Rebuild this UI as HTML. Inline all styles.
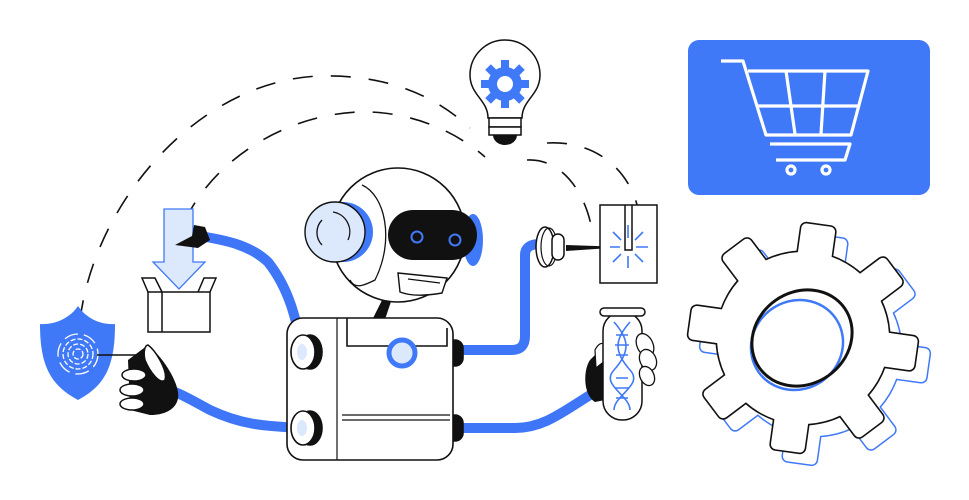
<!DOCTYPE html>
<html><head><meta charset="utf-8"><style>html,body{margin:0;padding:0;background:#fff}svg{display:block}</style></head><body>
<svg width="969" height="500" viewBox="0 0 969 500" xmlns="http://www.w3.org/2000/svg">
<defs>
<g id="gearshape">
<circle cx="0" cy="0" r="86"/>
<rect x="60" y="-17" width="54" height="34" rx="5"/>
<rect x="60" y="-17" width="54" height="34" rx="5" transform="rotate(45)"/>
<rect x="60" y="-17" width="54" height="34" rx="5" transform="rotate(90)"/>
<rect x="60" y="-17" width="54" height="34" rx="5" transform="rotate(135)"/>
<rect x="60" y="-17" width="54" height="34" rx="5" transform="rotate(180)"/>
<rect x="60" y="-17" width="54" height="34" rx="5" transform="rotate(225)"/>
<rect x="60" y="-17" width="54" height="34" rx="5" transform="rotate(270)"/>
<rect x="60" y="-17" width="54" height="34" rx="5" transform="rotate(315)"/>
</g>
</defs>
<g fill="none" stroke="#111" stroke-width="1.6" stroke-dasharray="20 18">
<path d="M80 320 C 95 200, 200 80, 320 76 C 400 74, 445 105, 470 128"/>
<path d="M185 220 C 220 150, 300 110, 370 112 C 420 114, 460 135, 485 157"/>
<path d="M527 160 C 560 158, 585 190, 592 230"/>
<path d="M547 143 C 600 140, 635 175, 640 220"/>
</g>
<rect x="688" y="40" width="242" height="155" rx="11" fill="#4079f7"/>
<g fill="none" stroke="#fff" stroke-width="3.2" stroke-linejoin="round">
<path d="M721 61 H743 L766 135 H851 L868 71 H748"/>
<path d="M758 106 H860 M786 71 L795 134 M825 71 L821 134"/>
<path d="M770 144 H850 L845 160 H776"/>
<circle cx="791" cy="170" r="4"/><circle cx="826" cy="170" r="4"/>
</g>
<path d="M488 118 C 488 100, 470 95, 470 75 A35 35 0 1 1 540 75 C 540 95, 522 100, 522 118 Z" fill="#fff" stroke="#111" stroke-width="1.5"/>
<rect x="489" y="118" width="32" height="9" fill="#fff" stroke="#111" stroke-width="1.5"/>
<rect x="489" y="127" width="32" height="8" fill="#fff" stroke="#111" stroke-width="1.5"/>
<path d="M493 135 H517 A12 10 0 0 1 493 135 Z" fill="#111"/>
<g transform="translate(505,84)" fill="#4079f7">
<circle r="17"/>
<rect x="-4" y="-24" width="8" height="48"/><rect x="-4" y="-24" width="8" height="48" transform="rotate(45)"/>
<rect x="-4" y="-24" width="8" height="48" transform="rotate(90)"/><rect x="-4" y="-24" width="8" height="48" transform="rotate(135)"/>
<circle r="8" fill="#fff"/>
</g>
<g transform="translate(815,350) rotate(8)" fill="none" stroke="#4079f7" stroke-width="3"><use href="#gearshape"/></g>
<g transform="translate(815,350) rotate(8)" fill="#fff" stroke="none"><use href="#gearshape"/></g>
<g transform="translate(803,338) rotate(8)" fill="none" stroke="#111" stroke-width="3.2"><use href="#gearshape"/></g>
<g transform="translate(803,338) rotate(8)" fill="#fff" stroke="none"><use href="#gearshape"/></g>
<ellipse cx="797" cy="345" rx="47" ry="44" transform="rotate(-35 797 345)" fill="none" stroke="#4079f7" stroke-width="2.5"/>
<ellipse cx="802" cy="338" rx="52" ry="46" transform="rotate(-35 802 338)" fill="none" stroke="#111" stroke-width="3"/>
<g fill="none" stroke="#3f76f7" stroke-width="10" stroke-linecap="round">
<path d="M303 352 C 296 320, 290 290, 268 262 C 250 245, 225 240, 200 236"/>
<path d="M303 428 C 260 426, 240 424, 210 410 C 195 402, 185 396, 175 392"/>
<path d="M462 350 H512 Q525 350 525 336 V255 Q525 244 540 244"/>
<path d="M462 428 H515 C 545 428, 565 410, 595 392"/>
</g>
<path d="M78 306 C 70 318, 55 325, 40 324 C 40 365, 50 385, 78 400 C 106 385, 115 365, 115 324 C 100 325, 86 318, 78 306 Z" fill="#4079f7"/>
<g fill="none" stroke="#fff" stroke-width="1.3" stroke-dasharray="5 2">
<circle cx="78" cy="354" r="5"/><circle cx="78" cy="354" r="10"/><circle cx="78" cy="354" r="15"/><circle cx="78" cy="354" r="20" stroke-dasharray="14 6"/>
</g>
<line x1="97" y1="355" x2="143" y2="355" stroke="#111" stroke-width="1.5"/>
<circle cx="143" cy="355" r="5" fill="#4079f7"/>
<path d="M148 345 C 160 355, 175 375, 178 392 C 180 405, 170 415, 150 415 L130 410 L128 360 Z" fill="#111"/>
<g fill="#fff" stroke="#111" stroke-width="1.5">
<path d="M148 345 C 155 350, 168 370, 165 380 C 160 385, 150 372, 145 360 C 143 352, 145 345, 148 345 Z"/>
<ellipse cx="134" cy="375" rx="12" ry="6"/><ellipse cx="132" cy="390" rx="12" ry="6"/><ellipse cx="132" cy="404" rx="12" ry="6"/>
</g>
<path d="M164 209 H193 V262 H205 L179 289 L153 262 H164 Z" fill="#dce8fb" stroke="#4079f7" stroke-width="1.3"/>
<g fill="#fff" stroke="#111" stroke-width="1.5">
<path d="M148 292 L142 278 H155 L162 292"/><path d="M198 292 L204 278 H216 L210 292"/>
<rect x="148" y="292" width="62" height="40" fill="none"/><line x1="162" y1="292" x2="162" y2="332"/>
</g>
<path d="M194 225 L205 227 L210 240 L198 248 L175 245 L192 236 Z" fill="#111"/>
<g stroke="#111" stroke-width="1.6">
<path d="M374 318 L383 300 L390 302 L384 320 Z" fill="#111"/>
<rect x="447" y="340" width="16" height="26" rx="8" fill="#111"/>
<rect x="447" y="415" width="16" height="26" rx="8" fill="#111"/>
<rect x="287" y="318" width="166" height="142" rx="16" fill="#fff"/>
<path d="M337 318 V460" fill="none" stroke-width="1.2"/>
<path d="M347 318 V346 H447 V328" fill="none"/>
<path d="M342 415 H450 M342 420 H450" fill="none" stroke-width="1.2"/>
<ellipse cx="310" cy="352" rx="12" ry="17" fill="#111"/>
<ellipse cx="303" cy="352" rx="12" ry="17" fill="#fff"/>
<ellipse cx="310" cy="428" rx="12" ry="17" fill="#111"/>
<ellipse cx="303" cy="428" rx="12" ry="17" fill="#fff"/>
</g>
<circle cx="402" cy="353" r="13" fill="#dce8fb" stroke="#4079f7" stroke-width="5"/>
<ellipse cx="302" cy="352" rx="5" ry="8" fill="#dce8fb"/><ellipse cx="302" cy="428" rx="5" ry="8" fill="#dce8fb"/>
<circle cx="398" cy="235" r="67" fill="#fff" stroke="#111" stroke-width="1.6"/>
<path d="M362 185 C 385 195, 395 240, 375 280 C 365 285, 355 290, 350 280" fill="none" stroke="#111" stroke-width="1.3"/>
<circle cx="343" cy="232" r="30" fill="#4079f7"/>
<circle cx="335" cy="232" r="30" fill="#dce8fb" stroke="#111" stroke-width="1.4"/>
<path d="M333 212 A20 20 0 0 1 348 240 M322 245 A18 18 0 0 1 322 220" fill="none" stroke="#111" stroke-width="1.3"/>
<ellipse cx="473" cy="240" rx="10" ry="26" fill="#4079f7"/>
<rect x="388" y="210" width="89" height="50" rx="25" fill="#111"/>
<circle cx="417" cy="237" r="5.5" fill="none" stroke="#4079f7" stroke-width="2"/>
<circle cx="455" cy="240" r="5.5" fill="none" stroke="#4079f7" stroke-width="2"/>
<path d="M398 273 L447 278 L442 293 C 425 296, 410 296, 400 292 Z" fill="#fff" stroke="#111" stroke-width="1.4"/>
<path d="M408 279 L440 283" stroke="#111" stroke-width="1.2"/>
<ellipse cx="545" cy="247" rx="9" ry="20" fill="#fff" stroke="#111" stroke-width="1.5"/>
<ellipse cx="549" cy="247" rx="8" ry="19" fill="none" stroke="#111" stroke-width="1.2"/>
<rect x="552" y="234" width="12" height="26" rx="6" fill="#fff" stroke="#111" stroke-width="1.5"/>
<path d="M566 245 L625 247 L566 251 Z" fill="#111"/>
<path d="M600 205 H657 V283 H600 Z" fill="#fff" stroke="#111" stroke-width="1.5"/>
<path d="M625 205 V250 H632 V205" fill="none" stroke="#111" stroke-width="1.5"/>
<g stroke="#4079f7" stroke-width="1.6">
<path d="M628 225 V238 M628 256 V268 M610 247 H620 M636 247 H648 M613 232 L621 240 M643 232 L635 240 M613 262 L621 254 M643 262 L635 254"/>
</g>
<path d="M590 360 C 583 370, 583 395, 595 402 L605 400 L605 345 Z" fill="#111"/>
<path d="M595 350 C 600 340, 608 340, 606 360 L596 368 Z" fill="#fff" stroke="#111" stroke-width="1.2"/>
<rect x="603" y="312" width="39" height="108" rx="19" fill="#fff" stroke="#111" stroke-width="1.5"/>
<rect x="600" y="308" width="45" height="8" rx="4" fill="#fff" stroke="#111" stroke-width="1.5"/>
<g fill="#fff" stroke="#111" stroke-width="1.3">
<ellipse cx="645" cy="345" rx="8" ry="12" transform="rotate(-25 645 345)"/>
<ellipse cx="648" cy="360" rx="8" ry="11" transform="rotate(-25 648 360)"/>
<ellipse cx="647" cy="376" rx="7" ry="10" transform="rotate(-25 647 376)"/>
</g>
<g fill="none" stroke="#4079f7" stroke-width="1.6">
<path d="M614 322 C 630 340, 630 352, 614 370 C 600 385, 630 395, 630 410"/>
<path d="M630 322 C 614 340, 614 352, 630 370 C 644 385, 614 395, 614 410"/>
<path d="M616 335 H628 M615 345 H629 M616 355 H628 M616 378 H628 M615 388 H629 M616 398 H628"/>
</g>
</svg>
</body></html>
